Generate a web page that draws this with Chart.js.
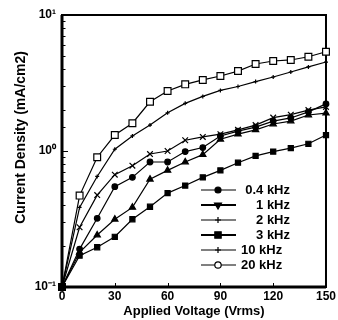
<!DOCTYPE html>
<html>
<head>
<meta charset="utf-8">
<script src="https://cdn.jsdelivr.net/npm/chart.js@4.4.0/dist/chart.umd.min.js"></script>
<style>
  html, body { margin: 0; padding: 0; background: #fff; }
  #wrap { width: 338px; height: 320px; }
</style>
</head>
<body>
<div id="wrap"><canvas id="c"></canvas></div>
<script>
// applied voltage (Vrms) and current density (mA/cm2) per frequency
const voltage = [0, 10, 20, 30, 40, 50, 60, 70, 80, 90, 100, 110, 120, 130, 140, 150];
const j04k = [0.1, 0.17, 0.196, 0.234, 0.315, 0.389, 0.49, 0.557, 0.64, 0.72, 0.82, 0.92, 0.99, 1.05, 1.13, 1.31];
const j1k  = [0.1, 0.18, 0.241, 0.315, 0.385, 0.62, 0.72, 0.83, 0.94, 1.22, 1.33, 1.43, 1.58, 1.66, 1.84, 1.90];
const j2k  = [0.1, 0.19, 0.32, 0.547, 0.64, 0.83, 0.83, 0.99, 1.06, 1.29, 1.40, 1.50, 1.66, 1.75, 1.94, 2.22];
const j3k  = [0.1, 0.275, 0.474, 0.67, 0.78, 0.95, 1.00, 1.20, 1.27, 1.33, 1.43, 1.55, 1.76, 1.85, 2.00, 2.11];
const j10k = [0.1, 0.385, 0.65, 1.03, 1.29, 1.55, 1.91, 2.24, 2.52, 2.79, 2.98, 3.24, 3.50, 3.81, 4.15, 4.51];
const j20k = [0.1, 0.47, 0.90, 1.31, 1.60, 2.30, 2.76, 3.09, 3.33, 3.56, 3.87, 4.36, 4.59, 4.67, 4.93, 5.37];
const seriesLabels = ['0.4 kHz', '1 kHz', '2 kHz', '3 kHz', '10 kHz', '20 kHz'];
const yTickText = { '-1': '10⁻¹', '0': '10⁰', '1': '10¹' };

Chart.defaults.font.family = "'Liberation Sans', Arial, sans-serif";
Chart.defaults.font.weight = 'bold';
Chart.defaults.color = '#000';

// marker look in the plot
const plotStyle = [
  { pointStyle: 'rect', radius: 3.6, fill: '#000' },
  { pointStyle: 'triangle', radius: 3.6, fill: '#000' },
  { pointStyle: 'circle', radius: 2.8, fill: '#000' },
  { pointStyle: 'crossRot', radius: 4, fill: '#000' },
  { pointStyle: 'cross', radius: 2, fill: '#000' },
  { pointStyle: 'rect', radius: 4.8, fill: '#fff' }
];
// marker look in the legend (differs from the plot, as in the original)
const legendStyle = [
  { pointStyle: 'circle', radius: 3, fill: '#000', rot: 0, lw: 1 },
  { pointStyle: 'triangle', radius: 4, fill: '#000', rot: 180, lw: 2 },
  { pointStyle: 'cross', radius: 3, fill: '#000', rot: 0, lw: 1 },
  { pointStyle: 'rect', radius: 4.5, fill: '#000', rot: 0, lw: 2 },
  { pointStyle: 'cross', radius: 3, fill: '#000', rot: 0, lw: 1 },
  { pointStyle: 'circle', radius: 3.2, fill: '#fff', rot: 0, lw: 1 }
];

const allSeries = [j04k, j1k, j2k, j3k, j10k, j20k];
const datasets = allSeries.map((arr, i) => ({
  label: seriesLabels[i],
  data: voltage.map((v, k) => ({ x: v, y: arr[k] })),
  borderColor: '#000',
  borderWidth: 1.2,
  backgroundColor: plotStyle[i].fill,
  pointStyle: plotStyle[i].pointStyle,
  pointRadius: plotStyle[i].radius,
  pointBorderWidth: 1.2,
  pointBorderColor: '#000',
  pointBackgroundColor: plotStyle[i].fill,
  tension: 0,
  clip: false
}));

const isDecade = v => Math.abs(Math.log10(v) - Math.round(Math.log10(v))) < 1e-6;

const frame = {
  id: 'frame',
  beforeDatasetsDraw(chart) {
    const { ctx, chartArea: a, scales: { x, y } } = chart;
    ctx.save();
    ctx.strokeStyle = '#000';
    ctx.lineWidth = 1;
    ctx.beginPath();
    y.ticks.forEach(t => {
      const py = Math.round(y.getPixelForValue(t.value)) + 0.5;
      ctx.moveTo(a.left, py);
      ctx.lineTo(a.left + (isDecade(t.value) ? 6 : 3.5), py);
    });
    x.ticks.forEach(t => {
      const px = Math.round(x.getPixelForValue(t.value)) + 0.5;
      ctx.moveTo(px, a.bottom);
      ctx.lineTo(px, a.bottom - 4);
    });
    ctx.stroke();
    ctx.lineWidth = 2;
    ctx.strokeRect(a.left, a.top, a.right - a.left, a.bottom - a.top);
    ctx.lineWidth = 3;
    ctx.beginPath();
    ctx.moveTo(a.left, a.top);
    ctx.lineTo(a.left, a.bottom);
    ctx.lineTo(a.right, a.bottom);
    ctx.stroke();
    ctx.restore();
  }
};

const boxLegend = {
  id: 'boxLegend',
  afterDraw(chart) {
    const { ctx } = chart;
    ctx.save();
    ctx.font = "bold 13px 'Liberation Sans', Arial, sans-serif";
    ctx.textBaseline = 'middle';
    ctx.fillStyle = '#000';
    seriesLabels.forEach((lab, i) => {
      const yy = 190 + i * 15;
      const st = legendStyle[i];
      ctx.strokeStyle = '#000';
      ctx.lineWidth = st.lw;
      ctx.beginPath();
      ctx.moveTo(201, yy);
      ctx.lineTo(236, yy);
      ctx.stroke();
      ctx.lineWidth = 1.2;
      ctx.fillStyle = st.fill;
      Chart.helpers.drawPoint(ctx, { pointStyle: st.pointStyle, radius: st.radius, rotation: st.rot, borderWidth: 1.2 }, 218, yy);
      ctx.fillStyle = '#000';
      if (i < 4) {
        ctx.textAlign = 'right';
        ctx.fillText(lab, 290, yy);
      } else {
        ctx.textAlign = 'left';
        ctx.fillText(lab, 241, yy);
      }
    });
    ctx.restore();
  }
};

new Chart(document.getElementById('c'), {
  type: 'line',
  data: { datasets },
  plugins: [frame, boxLegend],
  options: {
    responsive: true,
    maintainAspectRatio: false,
    animation: false,
    layout: { padding: { left: 0, right: 11, top: 15, bottom: 0 } },
    plugins: { legend: { display: false }, tooltip: { enabled: false } },
    scales: {
      x: {
        type: 'linear',
        min: 0, max: 150,
        grid: { display: false, drawTicks: false },
        border: { display: false },
        ticks: { stepSize: 30, padding: 2, font: { size: 12, weight: 'bold' }, maxRotation: 0 },
        title: { display: true, text: 'Applied Voltage (Vrms)', font: { size: 13, weight: 'bold' }, padding: { top: 0, bottom: 1 } },
        afterFit: s => { s.height = 33; }
      },
      y: {
        type: 'logarithmic',
        min: 0.1, max: 10,
        grid: { display: false, drawTicks: false },
        border: { display: false },
        ticks: {
          autoSkip: false,
          padding: 6,
          font: { size: 12, weight: 'bold' },
          callback: v => isDecade(v) ? yTickText[String(Math.round(Math.log10(v)))] : ''
        },
        title: { display: true, text: '       Current Density (mA/cm2)', font: { size: 14, weight: 'bold' }, padding: { top: 13, bottom: 0 } },
        afterFit: s => { s.width = 62; }
      }
    }
  }
});
</script>
</body>
</html>
